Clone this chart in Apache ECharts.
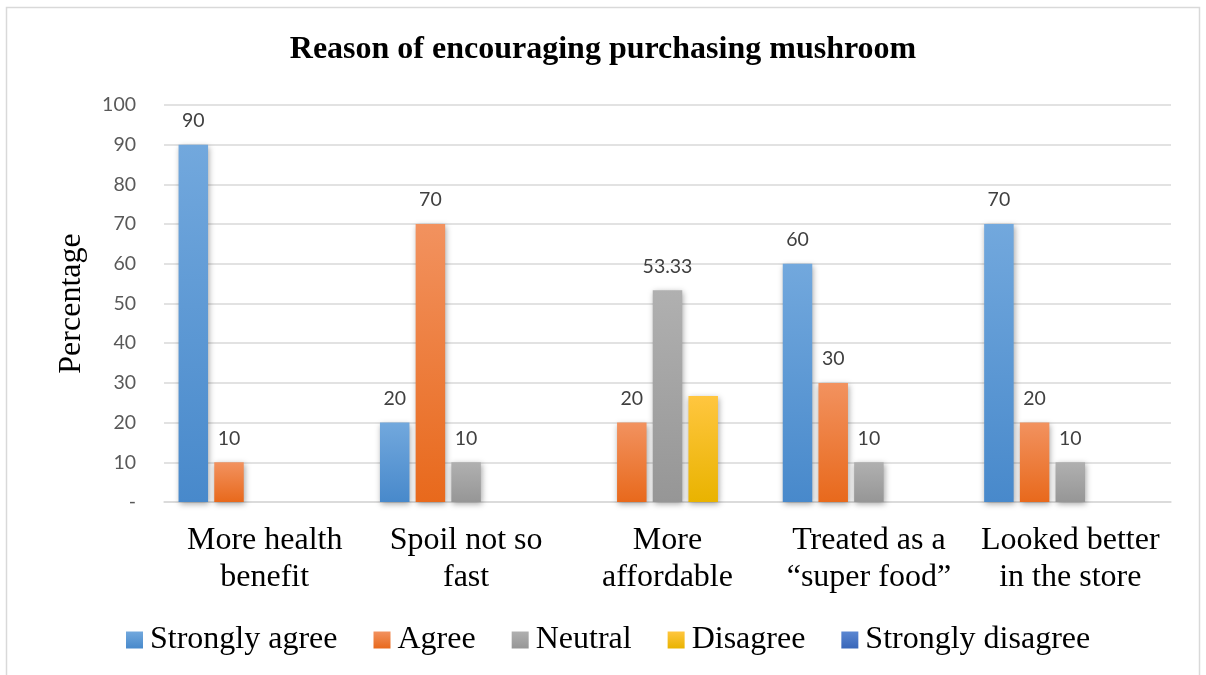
<!DOCTYPE html>
<html>
<head>
<meta charset="utf-8">
<title>Reason of encouraging purchasing mushroom</title>
<script src="https://cdn.jsdelivr.net/npm/echarts@6/dist/echarts.min.js"></script>
<style>
  html, body { margin: 0; padding: 0; background: #ffffff; }
  #chart { width: 1206px; height: 675px; }
</style>
</head>
<body>
<div id="chart"></div>
<script>
// Survey responses, percentage of respondents per reason
const categories = [
  'More health\nbenefit',
  'Spoil not so\nfast',
  'More\naffordable',
  'Treated as a\n\u201csuper food\u201d',
  'Looked better\nin the store'
];
const stronglyAgree    = [90, 20, 0, 60, 70];
const agree            = [10, 70, 20, 30, 20];
const neutral          = [0, 10, 53.33, 10, 10];
const disagree         = [0, 0, 26.67, 0, 0];
const stronglyDisagree = [0, 0, 0, 0, 0];
const yTicks = [0, 10, 20, 30, 40, 50, 60, 70, 80, 90, 100];

const serif = '"Liberation Serif", "Times New Roman", serif';
const sans = 'Lato, Carlito, Calibri, sans-serif';

function grad(top, bottom) {
  return new echarts.graphic.LinearGradient(0, 0, 0, 1, [
    { offset: 0, color: top },
    { offset: 1, color: bottom }
  ]);
}

function makeSeries(name, data, colorTop, colorBottom, showLabel) {
  return {
    name: name,
    type: 'bar',
    data: data,
    barWidth: 29.5,
    barGap: '21%',
    itemStyle: {
      color: grad(colorTop, colorBottom),
      shadowColor: 'rgba(0,0,0,0.35)',
      shadowBlur: 6,
      shadowOffsetX: 1,
      shadowOffsetY: 2
    },
    label: {
      show: showLabel,
      position: 'top',
      distance: 14,
      fontFamily: sans,
      fontSize: 19.5,
      color: '#404040',
      formatter: function (p) { return p.value === 0 ? '' : String(p.value); }
    }
  };
}

const chart = echarts.init(document.getElementById('chart'), null, { renderer: 'canvas' });

chart.setOption({
  animation: false,
  backgroundColor: '#ffffff',
  graphic: [{
    type: 'rect',
    shape: { x: 6.5, y: 7.5, width: 1193, height: 700 },
    style: { fill: 'none', stroke: '#d9d9d9', lineWidth: 1.5 },
    silent: true,
    z: -10
  }],
  title: {
    text: 'Reason of encouraging purchasing mushroom',
    left: 'center',
    top: 29,
    textStyle: {
      fontFamily: serif,
      fontWeight: 'bold',
      fontSize: 32,
      color: '#000000'
    }
  },
  legend: {
    top: 619,
    left: 121,
    icon: 'rect',
    itemWidth: 17,
    itemHeight: 17,
    itemGap: 36,
    textStyle: {
      fontFamily: serif,
      fontSize: 32,
      color: '#000000',
      padding: [0, 0, 0, 2]
    },
    data: ['Strongly agree', 'Agree', 'Neutral', 'Disagree', 'Strongly disagree']
  },
  grid: {
    left: 164,
    right: 35,
    top: 105,
    bottom: 173,
    containLabel: false
  },
  xAxis: {
    type: 'category',
    data: categories,
    axisTick: { show: false },
    axisLine: { lineStyle: { color: '#d9d9d9', width: 1.5 } },
    axisLabel: {
      fontFamily: serif,
      fontSize: 32,
      lineHeight: 37,
      color: '#000000',
      margin: 20,
      interval: 0
    }
  },
  yAxis: {
    type: 'value',
    min: yTicks[0],
    max: yTicks[yTicks.length - 1],
    interval: yTicks[1] - yTicks[0],
    name: 'Percentage',
    nameLocation: 'middle',
    nameGap: 76,
    nameRotate: 90,
    nameTextStyle: {
      fontFamily: serif,
      fontSize: 32,
      color: '#000000'
    },
    axisLine: { show: false },
    axisTick: { show: false },
    splitLine: { lineStyle: { color: '#d9d9d9', width: 1.5 } },
    axisLabel: {
      fontFamily: sans,
      fontSize: 19.5,
      color: '#595959',
      margin: 28,
      formatter: function (v) { return v === 0 ? '-' : String(v); }
    }
  },
  series: [
    makeSeries('Strongly agree', stronglyAgree, '#72a8dd', '#4889cb', true),
    makeSeries('Agree', agree, '#f2925f', '#e8691c', true),
    makeSeries('Neutral', neutral, '#b0b0b0', '#969696', true),
    makeSeries('Disagree', disagree, '#ffc63f', '#e9b300', false),
    makeSeries('Strongly disagree', stronglyDisagree, '#5b87d2', '#3866b9', false)
  ]
});
</script>
</body>
</html>
